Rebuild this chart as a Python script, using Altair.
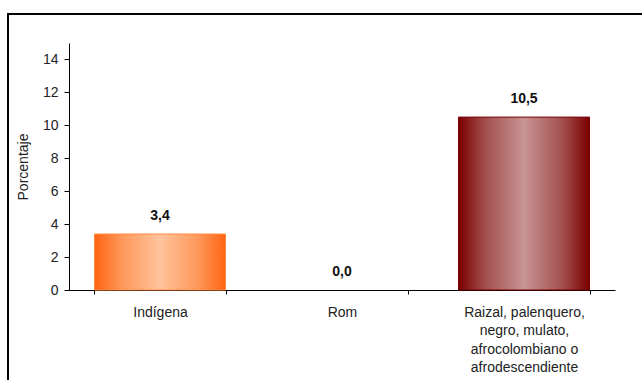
import altair as alt
import pandas as pd

# Share of population by ethnic self-recognition (percent)
grupos = [
    "Indígena",
    "Rom",
    "Raizal, palenquero,\nnegro, mulato,\nafrocolombiano o\nafrodescendiente",
]
porcentajes = [3.4, 0.0, 10.5]
y_ticks = [0, 2, 4, 6, 8, 10, 12, 14]

df = pd.DataFrame({"grupo": grupos, "pct": porcentajes})

FONT = "Liberation Sans"
RED_GROUP = grupos[2]

orange_grad = alt.Gradient(
    gradient="linear", x1=0, x2=1, y1=0, y2=0,
    stops=[
        alt.GradientStop(color="#FF6410", offset=0),
        alt.GradientStop(color="#FF9A5E", offset=0.22),
        alt.GradientStop(color="#FFC39C", offset=0.5),
        alt.GradientStop(color="#FF9A5E", offset=0.78),
        alt.GradientStop(color="#FF6410", offset=1),
    ],
)
red_grad = alt.Gradient(
    gradient="linear", x1=0, x2=1, y1=0, y2=0,
    stops=[
        alt.GradientStop(color="#7A0000", offset=0),
        alt.GradientStop(color="#A24D4D", offset=0.2),
        alt.GradientStop(color="#C99494", offset=0.5),
        alt.GradientStop(color="#A24D4D", offset=0.8),
        alt.GradientStop(color="#7A0000", offset=1),
    ],
)

x_enc = alt.X(
    "grupo:N",
    sort=grupos,
    title=None,
    scale=alt.Scale(paddingInner=0.28, paddingOuter=0.14),
    axis=alt.Axis(
        labelAngle=0,
        labelExpr="datum.value ? split(datum.value, '\\n') : ''",
        labelLineHeight=18.5,
        labelPadding=11,
        labelFont=FONT,
        labelFontSize=14,
        labelColor="#222222",
        labelLimit=300,
        tickBand="extent",
        tickSize=4,
        tickColor="#000000",
        domainColor="#000000",
        grid=False,
    ),
)
y_enc = alt.Y(
    "pct:Q",
    scale=alt.Scale(domain=[0, 15], nice=False),
    axis=alt.Axis(
        values=y_ticks,
        title="Porcentaje",
        titleFont=FONT,
        titleFontSize=14,
        titleFontWeight="normal",
        titleColor="#222222",
        titlePadding=12,
        labelFont=FONT,
        labelFontSize=14,
        labelColor="#222222",
        labelPadding=6,
        tickSize=5,
        tickColor="#000000",
        domainColor="#000000",
        grid=False,
    ),
)

base = alt.Chart(df)

# zero-height bars are left out so no outline sits on the axis
bars_orange = base.transform_filter(
    (alt.datum.grupo != RED_GROUP) & (alt.datum.pct > 0)
).mark_bar(color=orange_grad, stroke="#FF8A3D", strokeWidth=1).encode(x=x_enc, y=y_enc)

bars_red = base.transform_filter(alt.datum.grupo == RED_GROUP).mark_bar(
    color=red_grad, stroke="#7A0000", strokeWidth=1
).encode(x=x_enc, y=y_enc)

labels = base.transform_calculate(
    txt="replace(format(datum.pct, '.1f'), '.', ',')"
).mark_text(
    font=FONT, fontSize=14, fontWeight="bold", color="#111111",
    baseline="middle", dy=-18,
).encode(x=x_enc, y=y_enc, text="txt:N")

# outer frame: top and left edges as thin filled strips
one = pd.DataFrame({"f": [0]})
frame_top = alt.Chart(one).mark_rect(color="#000000", strokeWidth=0).encode(
    x=alt.value(-62), x2=alt.value(573), y=alt.value(-30), y2=alt.value(-28)
)
frame_left = alt.Chart(one).mark_rect(color="#000000", strokeWidth=0).encode(
    x=alt.value(-62), x2=alt.value(-60), y=alt.value(-30), y2=alt.value(344)
)

chart = alt.layer(bars_orange, bars_red, labels, frame_top, frame_left).properties(
    width=546,
    height=247,
    autosize=alt.AutoSizeParams(type="none"),
    padding={"left": 69, "top": 43, "right": 27, "bottom": 90},
    background="#FFFFFF",
).configure_view(stroke=None)

chart.save("out.html", embed_options={"renderer": "svg", "actions": False})
